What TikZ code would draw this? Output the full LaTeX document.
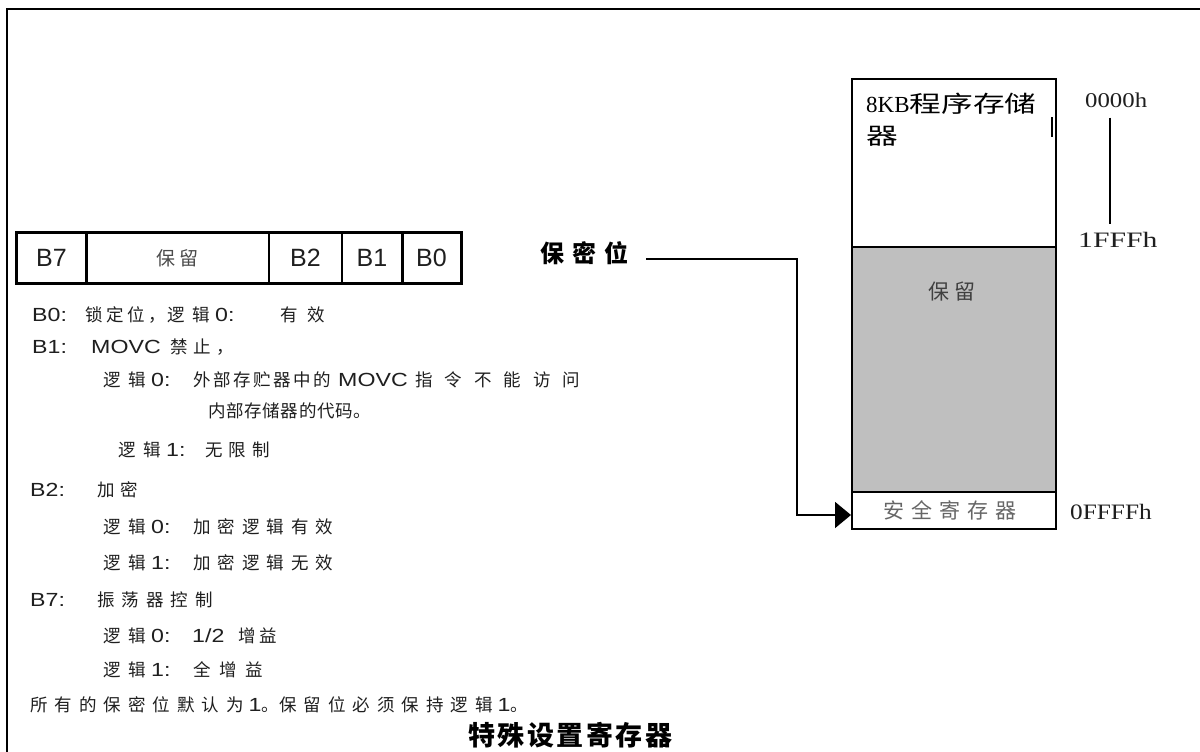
\documentclass[tikz,border=0pt]{standalone}
\usepackage{fontspec}
\setmainfont{Liberation Sans}
\newfontfamily\zh{Noto Sans CJK SC}
\newfontfamily\se{Liberation Serif}
\usetikzlibrary{arrows.meta}
\newdimen\cg
\def\spcA#1{#1\spcB}
\def\spcB#1{\ifx#1\relax\else\hskip\cg\relax#1\expandafter\spcB\fi}
\newcommand\Z[3]{{\zh\fontsize{#1}{#1}\selectfont\cg=#2\relax\spcA#3\relax}}
\newcommand\La[2]{\scalebox{1.22}[1]{\fontsize{#1}{#1}\selectfont #2}}
\newcommand\zb[2][5pt]{\Z{17.5}{#1}{#2}}
\newcommand\LJ[1]{\zb[8pt]{逻辑}\hspace{5pt}\La{19}{#1:}}
\begin{document}
\begin{tikzpicture}[x=1pt,y=-1pt,
  txt/.style={anchor=base west,inner sep=0pt,text=black!88},
  cell/.style={draw,line width=1.2pt,minimum height=50pt,inner sep=0pt,text=black!88},
  mem/.style={draw,line width=2pt,minimum width=204pt,inner sep=0pt},
  hexl/.style={anchor=west,inner sep=0pt,text=black!88}]
\useasboundingbox (0,0) rectangle (1200,752);
\fill[white] (0,0) rectangle (1200,752);
% frame
\draw[line width=2.5pt] (7,752) -- (7,9) -- (1200,9);
% register table
\node[cell,minimum width=69pt] (c7) at (51.5,258) {\fontsize{25}{25}\selectfont B7};
\node[cell,minimum width=183pt] (cr) at (177.5,258) {\textcolor{black!70}{\Z{19}{4pt}{保留}}};
\node[cell,minimum width=73pt] (c2) at (305.5,258) {\fontsize{25}{25}\selectfont B2};
\node[cell,minimum width=60pt] (c1) at (372,258) {\fontsize{25}{25}\selectfont B1};
\node[cell,minimum width=59pt] (c0) at (431.5,258) {\fontsize{25}{25}\selectfont B0};
\draw[line width=3pt] (c7.north west) rectangle (c0.south east);
\draw[line width=3pt] (c7.north east) -- (c7.south east);
\draw[line width=3pt] (c1.north east) -- (c1.south east);
% description lines
\node[txt] (l1a) at (32,321) {\La{19}{B0:}};
\node[txt] (l1b) at (85,321) {\zb[3.5pt]{锁定位，}};
\node[txt] (l1c) at (167,321) {\LJ{0}};
\node[txt] (l1d) at (280,321) {\zb[10pt]{有效}};
\node[txt] (l2a) at (32,353) {\La{19}{B1:}};
\node[txt] (l2b) at (91,353) {\La{19}{MOVC}};
\node[txt] (l2c) at (170,353) {\zb[5.5pt]{禁止，}};
\node[txt] (l3a) at (103,386) {\LJ{0}};
\node[txt] (l3b) at (193,386) {\zb[2.5pt]{外部存贮器中的}};
\node[txt] (l3c) at (338,386) {\La{19}{MOVC}};
\node[txt] (l3d) at (415,386) {\zb[12pt]{指令不能访问}};
\node[txt] (l4) at (208,417) {\zb[0.7pt]{内部存储器的代码。}};
\node[txt] (l5a) at (118,456) {\LJ{1}};
\node[txt] (l5b) at (205,456) {\zb[6pt]{无限制}};
\node[txt] (l6a) at (30,496) {\La{19}{B2:}};
\node[txt] (l6b) at (97,496) {\zb[6pt]{加密}};
\node[txt] (l7a) at (103,533) {\LJ{0}};
\node[txt] (l7b) at (193,533) {\zb[7pt]{加密逻辑有效}};
\node[txt] (l8a) at (103,569) {\LJ{1}};
\node[txt] (l8b) at (193,569) {\zb[7pt]{加密逻辑无效}};
\node[txt] (l9a) at (30,606) {\La{19}{B7:}};
\node[txt] (l9b) at (97,606) {\zb[7pt]{振荡器控制}};
\node[txt] (l10a) at (103,642) {\LJ{0}};
\node[txt] (l10b) at (192,642) {\La{19}{1/2}};
\node[txt] (l10c) at (238,642) {\zb[4pt]{增益}};
\node[txt] (l11a) at (103,676) {\LJ{1}};
\node[txt] (l11b) at (193,676) {\zb[8.75pt]{全增益}};
\node[txt] (l12) at (30,711) {\zb[7pt]{所有的保密位默认为}\hspace{5pt}\La{19}{1}\zb{。}\zb[7pt]{保留位必须保持逻辑}\hspace{5pt}\La{19}{1}\zb{。}};
\node[anchor=west,inner sep=0pt] (title) at (468,735) {\bfseries\Z{27}{2.5pt}{特殊设置寄存器}};
% memory map
\node[mem,minimum height=168pt] (m8) at (954,163) {};
\node[mem,minimum height=245pt,fill=black!25] (mr) at (954,369.5) {};
\node[mem,minimum height=37pt,text=black!60] (sec) at (954,510.5) {\hspace{-8pt}\Z{21}{7pt}{安全寄存器}};
\node[anchor=base west,inner sep=0pt] (m8a) at (866,112) {{\se\fontsize{23}{23}\selectfont 8KB}\scalebox{1.38}[1]{\zh\fontsize{23}{23}\selectfont 程序存储}};
\node[anchor=base west,inner sep=0pt] (m8b) at (866,144) {\scalebox{1.38}[1]{\zh\fontsize{23}{23}\selectfont 器}};
\draw[line width=1.5pt] (m8.north east) ++(-5,39) -- ++(0,20);
\node[text=black!75] (mrl) at (952,292) {\Z{21}{6pt}{保留}};
\node[hexl] (a0) at (1085,100) {\se\scalebox{1.18}[1]{\fontsize{21}{21}\selectfont 0000h}};
\node[hexl] (a1) at (1078,240) {\se\scalebox{1.35}[1]{\fontsize{22}{22}\selectfont 1FFFh}};
\node[hexl] (a2) at (1070,512) {\se\scalebox{1.15}[1]{\fontsize{22}{22}\selectfont 0FFFFh}};
\draw[line width=1.5pt] (a0.south) ++(-6,10) -- ++(0,106);
% connector
\node[anchor=west,inner sep=0pt] (bmw) at (540,253) {\bfseries\Z{24}{8pt}{保密位}};
\coordinate (k) at (797,259);
\draw[line width=1.8pt,-{Triangle[length=16pt,width=26pt]}] ([xshift=18pt,yshift=-6pt]bmw.east) -- (k) |- ([yshift=-4.5pt]sec.west);
\end{tikzpicture}
\end{document}
